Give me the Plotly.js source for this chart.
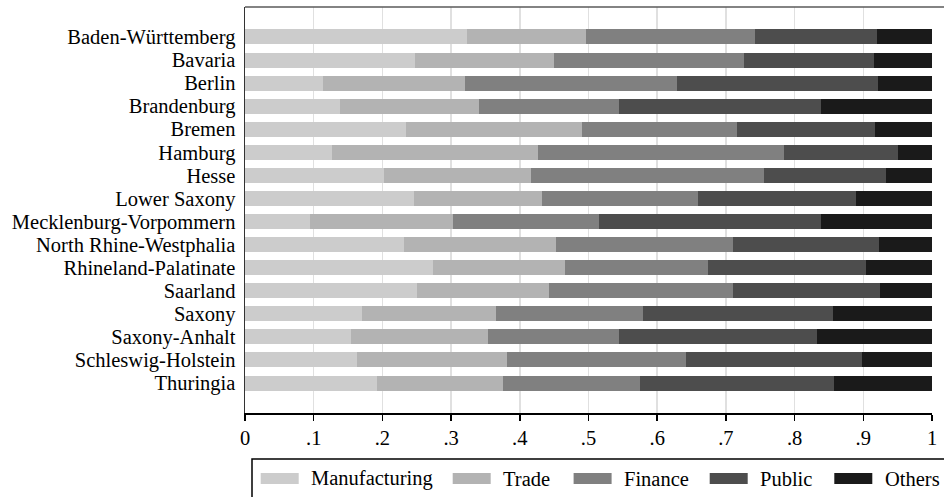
<!DOCTYPE html>
<html>
<head>
<meta charset="utf-8">
<script src="https://cdn.plot.ly/plotly-3.0.1.min.js"></script>
<style>html,body{margin:0;padding:0;background:#fff;}#chart{width:944px;height:497px;}</style>
</head>
<body>
<div id="chart"></div>
<script>
const states = ["Baden-Württemberg","Bavaria","Berlin","Brandenburg","Bremen","Hamburg","Hesse","Lower Saxony","Mecklenburg-Vorpommern","North Rhine-Westphalia","Rhineland-Palatinate","Saarland","Saxony","Saxony-Anhalt","Schleswig-Holstein","Thuringia"];
const manufacturing = [0.323,0.247,0.113,0.139,0.234,0.127,0.202,0.246,0.094,0.232,0.273,0.250,0.171,0.155,0.163,0.192];
const trade         = [0.173,0.203,0.207,0.201,0.256,0.299,0.215,0.187,0.209,0.221,0.193,0.192,0.194,0.198,0.219,0.183];
const finance       = [0.247,0.276,0.309,0.204,0.226,0.358,0.338,0.227,0.212,0.257,0.208,0.268,0.214,0.192,0.260,0.200];
const publicSector  = [0.177,0.190,0.292,0.295,0.201,0.166,0.178,0.230,0.324,0.213,0.230,0.214,0.277,0.287,0.256,0.283];
const others        = [0.080,0.084,0.079,0.161,0.083,0.050,0.067,0.110,0.161,0.077,0.096,0.076,0.144,0.168,0.102,0.142];
const seriesNames = ["Manufacturing","Trade","Finance","Public","Others"];
const seriesColors = ["#cccccc","#b3b3b3","#808080","#4d4d4d","#1a1a1a"];
const xTickVals = [0,0.1,0.2,0.3,0.4,0.5,0.6,0.7,0.8,0.9,1];
const xTickText = ["0",".1",".2",".3",".4",".5",".6",".7",".8",".9","1"];

const seriesData = [manufacturing, trade, finance, publicSector, others];
const traces = seriesData.map((vals, i) => ({
  type: "bar", orientation: "h", name: seriesNames[i],
  x: vals, y: states,
  marker: {color: seriesColors[i], line: {width: 0}},
  width: 0.65, showlegend: false, hoverinfo: "x+y+name"
}));

const L = 245, R = 932, T = 7, B = 413;
const px = v => (v - L) / (R - L);
const py = v => (B - v) / (B - T);

const shapes = [
  {type: "line", xref: "paper", yref: "paper", x0: 0, x1: 1.1, y0: 1, y1: 1, line: {color: "#5a5a5a", width: 1.5}},
  {type: "rect", xref: "paper", yref: "paper", x0: px(252), x1: 1.15, y0: py(459), y1: py(530), line: {color: "#000", width: 1.5}, fillcolor: "rgba(0,0,0,0)"}
];
const swatchX = [260.7, 452.7, 573.6, 709.7, 834.3];
const textX = [309, 501.4, 622, 758.3, 882.7];
const annotations = [];
seriesNames.forEach((n, i) => {
  shapes.push({type: "rect", xref: "paper", yref: "paper", x0: px(swatchX[i]), x1: px(swatchX[i] + 38), y0: py(473), y1: py(484), line: {width: 0}, fillcolor: seriesColors[i]});
  annotations.push({xref: "paper", yref: "paper", x: px(textX[i]), y: py(479), xanchor: "left", yanchor: "middle", text: n, showarrow: false, font: {family: "Liberation Serif", size: 20.5, color: "#000"}});
});

const layout = {
  width: 944, height: 497,
  margin: {l: L, r: 944 - R, t: T, b: 497 - B, pad: 0},
  paper_bgcolor: "#fff", plot_bgcolor: "#fff",
  barmode: "stack", bargap: 0.35,
  font: {family: "Liberation Serif", size: 20.5, color: "#000"},
  xaxis: {
    range: [0, 1], tickmode: "array", tickvals: xTickVals, ticktext: xTickText,
    showgrid: true, gridcolor: "#e0e0e0", gridwidth: 1.5,
    zeroline: false, showline: true, linecolor: "#000", linewidth: 1.5,
    ticks: "outside", ticklen: 6, tickwidth: 1.5, tickcolor: "#000",
    tickfont: {family: "Liberation Serif", size: 20.5, color: "#000"}, fixedrange: true
  },
  yaxis: {
    type: "category", categoryorder: "array", categoryarray: states,
    tickmode: "array", tickvals: states, ticktext: states,
    range: [16.3, -1.3], autorange: false,
    showgrid: false, zeroline: false, showline: true, linecolor: "#333", linewidth: 1.5,
    ticks: "", ticklabelstandoff: 4,
    tickfont: {family: "Liberation Serif", size: 20.5, color: "#000"}, fixedrange: true
  },
  shapes: shapes, annotations: annotations, showlegend: false
};
Plotly.newPlot("chart", traces, layout, {displayModeBar: false, staticPlot: true});
</script>
</body>
</html>
